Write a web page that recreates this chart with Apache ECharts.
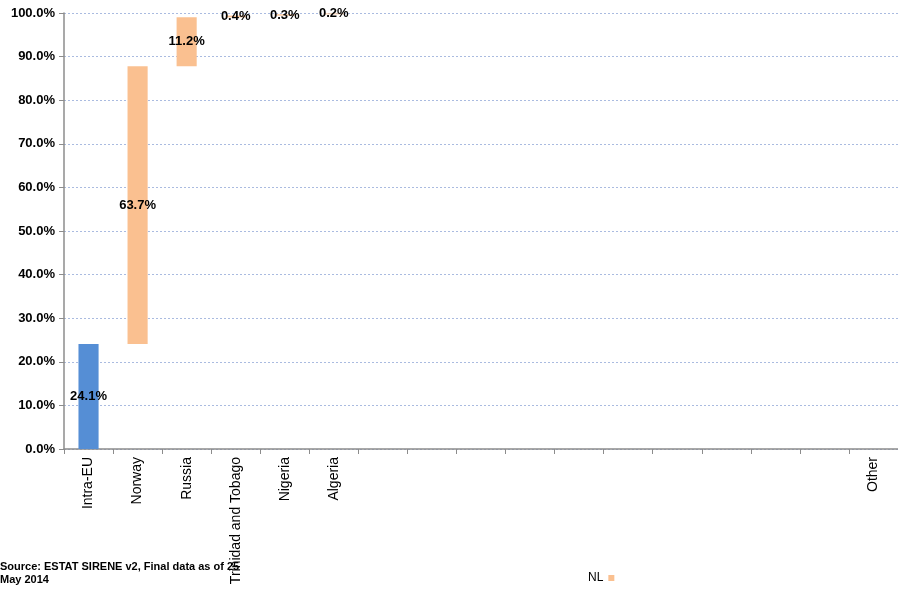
<!DOCTYPE html>
<html><head><meta charset="utf-8">
<script src="https://cdn.jsdelivr.net/npm/echarts@6/dist/echarts.min.js"></script>
<style>html,body{margin:0;padding:0;background:#fff}#c{width:898px;height:589px}</style>
</head><body><div id="c"></div>
<script>
var categories = ['Intra-EU','Norway','Russia','Trinidad and Tobago','Nigeria','Algeria','','','','','','','','','','','Other'];
var shares = [24.1, 63.7, 11.2, 0.4, 0.3, 0.2, null, null, null, null, null, null, null, null, null, null, null];
var yTicks = {min: 0, max: 100, interval: 10};
var seriesName = 'NL';
var sourceText = 'Source: ESTAT SIRENE v2, Final data as of 25\nMay 2014';

var base = [];
var run = 0;
for (var i = 0; i < shares.length; i++) {
  if (shares[i] == null) { base.push(null); continue; }
  base.push(i === 0 ? 0 : run);
  run += shares[i];
}
var valData = shares.map(function (v, i) {
  if (v == null) return null;
  return { value: v, itemStyle: { color: i === 0 ? '#558ed5' : '#fac090' } };
});

var chart = echarts.init(document.getElementById('c'), null, {renderer: 'canvas'});
chart.setOption({
  animation: false,
  textStyle: { fontFamily: 'Liberation Sans, Arial, sans-serif' },
  title: {
    text: sourceText, left: 0, bottom: 3, padding: 0,
    textStyle: { fontSize: 11, fontWeight: 'bold', color: '#000', lineHeight: 13, fontFamily: 'Liberation Sans, sans-serif' }
  },
  legend: {
    data: [{ name: seriesName, icon: 'rect', itemStyle: { color: '#fac090' } }],
    left: 583, top: 567, itemWidth: 6, itemHeight: 6, align: 'right', itemGap: 6,
    textStyle: { fontSize: 12, color: '#000', padding: [0, 0, 0, 0] }
  },
  grid: { left: 64, right: -4, top: 13, bottom: 140, containLabel: false },
  xAxis: {
    type: 'category', data: categories, boundaryGap: true,
    axisLine: { lineStyle: { color: '#8c8c8c', width: 1.5 } },
    axisTick: { show: true, length: 5, alignWithLabel: false, interval: 0, lineStyle: { color: '#8c8c8c' } },
    axisLabel: { interval: 0, rotate: 90, fontSize: 14, color: '#000', margin: 8 },
    splitLine: { show: false }
  },
  yAxis: {
    type: 'value', min: yTicks.min, max: yTicks.max, interval: yTicks.interval,
    axisLine: { show: true, lineStyle: { color: '#8c8c8c', width: 1.5 } },
    axisTick: { show: true, length: 5, lineStyle: { color: '#8c8c8c' } },
    axisLabel: { formatter: function (v) { return v.toFixed(1) + '%'; }, fontSize: 13, fontWeight: 'bold', color: '#000', margin: 9 },
    splitLine: { show: true, lineStyle: { color: '#aabbe0', type: [2, 2], width: 1 } }
  },
  series: [
    { name: 'base', type: 'bar', stack: 's', data: base, barWidth: '41%',
      itemStyle: { color: 'rgba(0,0,0,0)' }, silent: true, label: { show: false } },
    { name: seriesName, type: 'bar', stack: 's', data: valData, barWidth: '41%',
      itemStyle: { color: '#fac090' },
      label: { show: true, position: 'inside', formatter: function (p) { return p.value.toFixed(1) + '%'; },
        fontSize: 13, fontWeight: 'bold', color: '#000' } }
  ]
});
</script></body></html>
